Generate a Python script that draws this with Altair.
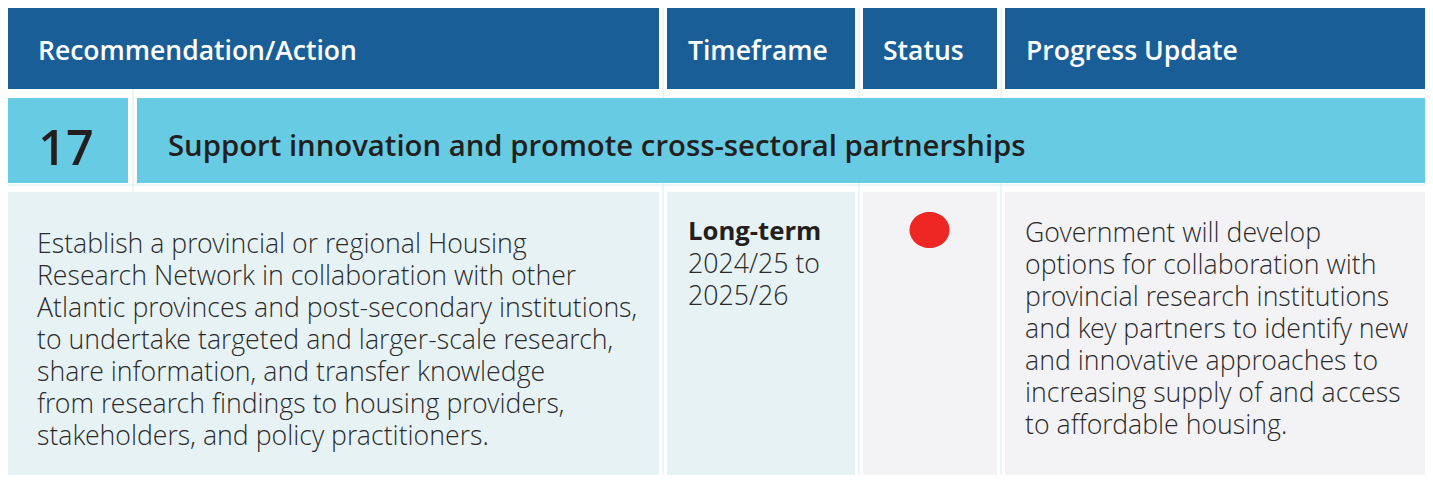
import altair as alt
import pandas as pd

# ---------------- content ----------------
headers = ["Recommendation/Action", "Timeframe", "Status", "Progress Update"]
rec_number = "17"
rec_title = "Support innovation and promote cross-sectoral partnerships"
action_lines = [
    "Establish a provincial or regional Housing",
    "Research Network in collaboration with other",
    "Atlantic provinces and post-secondary institutions,",
    "to undertake targeted and larger-scale research,",
    "share information, and transfer knowledge",
    "from research findings to housing providers,",
    "stakeholders, and policy practitioners.",
]
timeframe_term = "Long-term"
timeframe_lines = ["2024/25 to", "2025/26"]
status_value = "Not started"
status_names = ["Not started", "In progress", "Complete"]
status_colors = ["#ee2724", "#f5b335", "#3aaa49"]
progress_lines = [
    "Government will develop",
    "options for collaboration with",
    "provincial research institutions",
    "and key partners to identify new",
    "and innovative approaches to",
    "increasing supply of and access",
    "to affordable housing.",
]

# ---------------- layout (page pixel frame) ----------------
X0, X1 = 8, 1425
Y0, Y1 = 8, 475
col_edges = [(5, 659), (667, 855), (863, 997), (1005, 1429)]
row_edges = [(6, 89), (98, 183), (192, 483)]
num_cell = (5, 128)
title_cell = (137, 1429)
pad_left = [33, 21, 20, 21]
LINE = 32
BODY_SIZE = 26.7

HEADER_BG = "#1a5e98"
CYAN = "#66cbe3"
BODY_BLUE = "#e7f2f4"
BODY_GRAY = "#f3f3f5"
INK = "#231f20"
BODY_INK = "#2a2a2a"
FONT = "Open Sans Light, Open Sans"
FONT_B = "Open Sans"

xs = alt.Scale(domain=[X0, X1], nice=False, zero=False)
ys = alt.Scale(domain=[Y0, Y1], nice=False, zero=False, reverse=True)

# cells
cells = []
for (a, b), h in zip(col_edges, headers):
    cells.append(dict(x=a, x2=b, y=row_edges[0][0], y2=row_edges[0][1], fill=HEADER_BG))
cells.append(dict(x=num_cell[0], x2=num_cell[1], y=row_edges[1][0], y2=row_edges[1][1], fill=CYAN))
cells.append(dict(x=title_cell[0], x2=title_cell[1], y=row_edges[1][0], y2=row_edges[1][1], fill=CYAN))
body_fills = [BODY_BLUE, BODY_BLUE, BODY_GRAY, BODY_GRAY]
for (a, b), f in zip(col_edges, body_fills):
    cells.append(dict(x=a, x2=b, y=row_edges[2][0], y2=row_edges[2][1], fill=f))
cells_df = pd.DataFrame(cells)

# faint grid lines
grid = []
for gx in [133, 663, 859, 1001]:
    grid.append(dict(x=gx, x2=gx, y=Y0, y2=Y1))
grid.append(dict(x=X0, x2=X1, y=185, y2=185))
grid_df = pd.DataFrame(grid)

grid_layer = alt.Chart(grid_df).mark_rule(color="#d6ecf1", strokeWidth=1).encode(
    x=alt.X("x:Q", scale=xs, axis=None), x2="x2:Q",
    y=alt.Y("y:Q", scale=ys, axis=None), y2="y2:Q")

cell_layer = alt.Chart(cells_df).mark_rect().encode(
    x=alt.X("x:Q", scale=xs, axis=None), x2="x2:Q",
    y=alt.Y("y:Q", scale=ys, axis=None), y2="y2:Q",
    fill=alt.Fill("fill:N", scale=None))

# texts (multi-line cells are one text each, split on "\n")
texts = []
for (a, b), h, p in zip(col_edges, headers, pad_left):
    texts.append(dict(x=a + p, y=60, t=h, size=26.5, weight=600, color="white", f=FONT_B))
texts.append(dict(x=(num_cell[0] + num_cell[1]) / 2 - 0.5, y=165, t=rec_number, size=48.5, weight=600, color=INK, al="center", f=FONT_B))
texts.append(dict(x=168, y=155.5, t=rec_title, size=29.3, weight=600, color=INK, f=FONT_B))
texts.append(dict(x=37, y=253, t="\n".join(action_lines), size=BODY_SIZE, weight=300, color=BODY_INK, f=FONT))
texts.append(dict(x=688, y=240, t=timeframe_term, size=25.7, weight=700, color=INK, f=FONT_B))
texts.append(dict(x=688, y=273, t="\n".join(timeframe_lines), size=BODY_SIZE, weight=300, color=BODY_INK, f=FONT))
texts.append(dict(x=1025, y=242, t="\n".join(progress_lines), size=BODY_SIZE, weight=300, color=BODY_INK, f=FONT))
text_df = pd.DataFrame(texts)
text_df["al"] = text_df["al"].fillna("left")

text_layers = []
for (w, al, sz, col, fnt), sub in text_df.groupby(["weight", "al", "size", "color", "f"]):
    text_layers.append(
        alt.Chart(sub).mark_text(
            font=fnt, fontWeight=int(w), fontSize=float(sz), color=col,
            align=al, baseline="alphabetic", lineBreak="\n", lineHeight=LINE
        ).encode(
            x=alt.X("x:Q", scale=xs, axis=None),
            y=alt.Y("y:Q", scale=ys, axis=None),
            text="t:N")
    )

# status dot (slightly wide ellipse)
status_df = pd.DataFrame([dict(x=(col_edges[2][0] + col_edges[2][1]) / 2 - 0.5, y=230, status=status_value)])
dot_layer = alt.Chart(status_df).mark_point(
    filled=True, opacity=1, size=1600,
    shape="M-1,0A1,0.9,0,1,0,1,0A1,0.9,0,1,0,-1,0Z").encode(
    x=alt.X("x:Q", scale=xs, axis=None),
    y=alt.Y("y:Q", scale=ys, axis=None),
    color=alt.Color("status:N", scale=alt.Scale(domain=status_names, range=status_colors), legend=None))

chart = alt.layer(grid_layer, cell_layer, *text_layers, dot_layer).properties(
    width=X1 - X0, height=Y1 - Y0, padding=0, background="white",
    autosize=alt.AutoSizeParams(type="none")
).configure_view(stroke=None)

chart.save("out.html", embed_options={"renderer": "svg", "actions": False})
